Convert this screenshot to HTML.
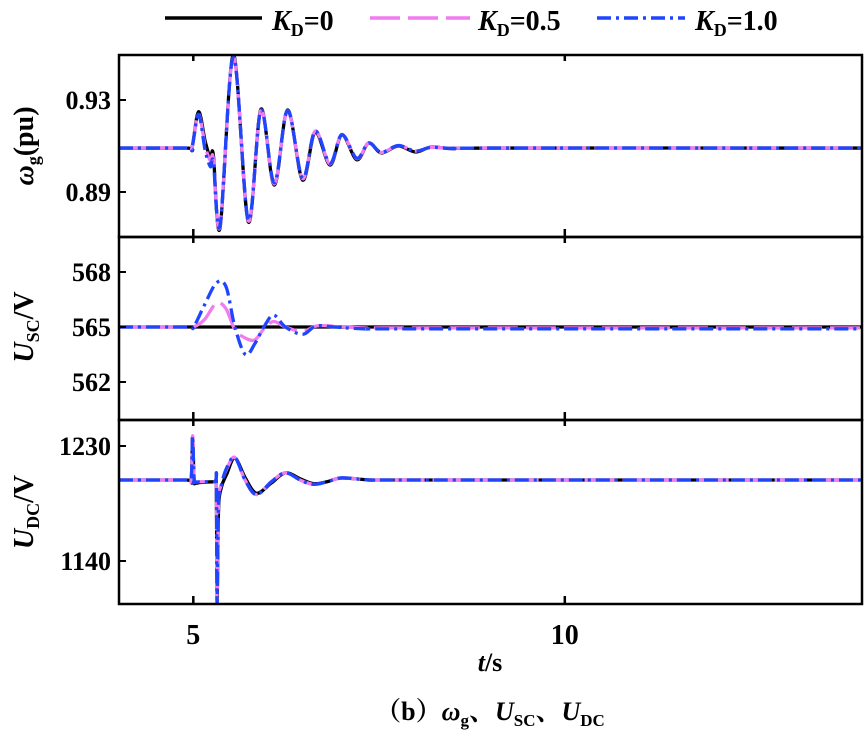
<!DOCTYPE html>
<html><head><meta charset="utf-8"><style>
body{margin:0;background:#fff;}
svg text{font-family:"Liberation Serif","Noto Serif CJK SC",serif;fill:#000;font-weight:bold;}
</style></head><body>
<svg id="chart" width="866" height="732" viewBox="0 0 866 732" xmlns="http://www.w3.org/2000/svg">
<g id="legend">
 <line x1="165" y1="18" x2="262" y2="18" stroke="#000" stroke-width="3.5"/>
 <text x="272" y="30" font-size="28"><tspan font-style="italic">K</tspan><tspan font-size="18" dy="6">D</tspan><tspan dy="-6">=0</tspan></text>
 <line x1="370" y1="18" x2="470" y2="18" stroke="#f07cf0" stroke-width="3.5" stroke-dasharray="30 8"/>
 <text x="478" y="30" font-size="28"><tspan font-style="italic">K</tspan><tspan font-size="18" dy="6">D</tspan><tspan dy="-6">=0.5</tspan></text>
 <line x1="597" y1="18" x2="685" y2="18" stroke="#1f45ff" stroke-width="3.5" stroke-dasharray="14 5 3 5"/>
 <text x="695" y="30" font-size="28"><tspan font-style="italic">K</tspan><tspan font-size="18" dy="6">D</tspan><tspan dy="-6">=1.0</tspan></text>
</g>
<g id="plots"></g>
<text x="490" y="671" font-size="26" text-anchor="middle"><tspan font-style="italic">t</tspan>/s</text>
<text x="490" y="720" font-size="26" text-anchor="middle">（b）<tspan font-style="italic">ω</tspan><tspan font-size="17" dy="6">g</tspan><tspan dy="-6">、</tspan><tspan font-style="italic">U</tspan><tspan font-size="17" dy="6">SC</tspan><tspan dy="-6">、</tspan><tspan font-style="italic">U</tspan><tspan font-size="17" dy="6">DC</tspan></text>
</svg>
<script>
// ---- data ----
const xTicks=[5,10];
const wT=[4,4.9,4.98,5.07,5.16,5.23,5.27,5.36,5.54,5.74,5.91,6.09,6.27,6.47,6.64,6.84,7.0,7.2,7.36,7.53,7.76,7.99,8.2,8.5,9,14];
const wK0=[0.9091,0.9091,0.9091,0.9249,0.912,0.9048,0.9061,0.8743,0.9496,0.877,0.926,0.893,0.9257,0.8952,0.916,0.9017,0.9148,0.904,0.9113,0.907,0.910,0.9074,0.9095,0.9088,0.9091,0.9091];
const wK05=[0.9091,0.9091,0.9091,0.9240,0.910,0.9035,0.9045,0.8750,0.9490,0.8775,0.9255,0.8935,0.9255,0.8958,0.9165,0.9022,0.9150,0.9045,0.9113,0.9072,0.9102,0.9078,0.9094,0.9089,0.9091,0.9091];
const wK10=[0.9091,0.9091,0.9091,0.9238,0.908,0.9010,0.9030,0.8755,0.9488,0.8778,0.9255,0.8940,0.9255,0.8960,0.9165,0.9025,0.9150,0.9047,0.9113,0.9073,0.9102,0.9078,0.9094,0.9089,0.9091,0.9091];
const wTicks=[0.89,0.93];
const uT=[4,4.9,5.0,5.15,5.31,5.44,5.56,5.7,5.83,5.95,6.08,6.24,6.47,6.65,6.9,7.3,8,14];
const uK0=[565,565,565,565,565,565,565,565,565,565,565,565,565,565,565,565,565,565];
const uK05=[565,565,565,565.4,566.3,566.0,564.85,564.4,564.3,564.9,565.3,565.0,564.75,565.05,565.05,564.95,564.95,564.95];
const uK10=[565,565,565,566.2,567.4,567.2,565.0,563.5,564.1,565.0,565.65,565.0,564.6,565.05,565.0,564.9,564.9,564.9];
const uTicks=[562,565,568];
const dT=[4,4.9,4.97,4.99,5.01,5.03,5.1,5.29,5.31,5.32,5.34,5.38,5.45,5.56,5.7,5.85,6.05,6.24,6.45,6.62,6.8,7.0,7.4,8,14];
const dK0=[1203.4,1203.4,1203.4,1237,1204,1201,1201.5,1202,1202,1109.5,1180,1198,1208,1220.6,1205,1193,1201,1209,1204,1200.5,1202,1205,1203.4,1203.4,1203.4];
const dK05=[1203.4,1203.4,1203.4,1238,1205,1202,1202,1202,1202,1108,1185,1200,1212,1221,1203,1192,1202,1209,1203,1200,1202,1205,1203.4,1203.4,1203.4];
const dK10=[1203.4,1203.4,1203.4,1238,1205,1202,1202,1202,1202,1106,1185,1200,1213,1221,1203,1192,1202,1209,1203,1200,1202,1205,1203.4,1203.4,1203.4];
const dTicks=[1140,1230];

const X0=119,X1=862,xMin=4,xMax=14;
const xs=t=>X0+(t-xMin)/(xMax-xMin)*(X1-X0);
const NS="http://www.w3.org/2000/svg";
const plots=document.getElementById('plots');
function mk(tag,attrs,parent){const e=document.createElementNS(NS,tag);for(const k in attrs)e.setAttribute(k,attrs[k]);(parent||plots).appendChild(e);return e;}
function smoothPath(pts){let d=`M${pts[0][0]},${pts[0][1]}`;for(let i=0;i<pts.length-1;i++){const p0=pts[Math.max(0,i-1)],p1=pts[i],p2=pts[i+1],p3=pts[Math.min(pts.length-1,i+2)];const c1=[p1[0]+(p2[0]-p0[0])/6,p1[1]+(p2[1]-p0[1])/6],c2=[p2[0]-(p3[0]-p1[0])/6,p2[1]-(p3[1]-p1[1])/6];d+=` C${c1[0]},${c1[1]} ${c2[0]},${c2[1]} ${p2[0]},${p2[1]}`;}return d;}
const styles=[{c:'#000',da:'',n:'kd0'},{c:'#f07cf0',da:'30 8',n:'kd05'},{c:'#1f45ff',da:'14 5 3 5',n:'kd10'}];
function panel(name,top,bot,vHi,yHi,vLo,yLo,ticks,tickFmt,T,series,titleHTML,titleY){
  const ys=v=>yHi+(v-vHi)/(vLo-vHi)*(yLo-yHi);
  const g=mk('g',{});
  
  
  const cp=mk('clipPath',{id:'cp-'+name},g);mk('rect',{x:X0,y:top,width:X1-X0,height:bot-top},cp);
  const sg=mk('g',{'clip-path':'url(#cp-'+name+')'},g);
  series.forEach((vals,si)=>{const pts=T.map((t,i)=>[xs(t),ys(vals[i])]);
    const p=mk('path',{d:smoothPath(pts),fill:'none',stroke:styles[si].c,'stroke-width':3.3,'stroke-dasharray':styles[si].da,'stroke-linejoin':'round'},sg);
    
    });
  const fr=mk('rect',{x:X0,y:top,width:X1-X0,height:bot-top,fill:'none',stroke:'#000','stroke-width':2.5},g);
  
  
  ticks.forEach(v=>{const y=ys(v);mk('line',{x1:X0,y1:y,x2:X0+7,y2:y,stroke:'#000','stroke-width':2},g);
    const t=mk('text',{x:X0-8,y:y+9,'font-size':26,'text-anchor':'end'},g);t.textContent=tickFmt(v);
    
    });
  xTicks.forEach(v=>{const x=xs(v);mk('line',{x1:x,y1:bot,x2:x,y2:bot-8,stroke:'#000','stroke-width':2.5},g);mk('line',{x1:x,y1:top,x2:x,y2:top+6,stroke:'#000','stroke-width':2.5},g);});
  const tt=mk('text',{transform:`translate(33,${titleY}) rotate(-90)`,'font-size':28,'text-anchor':'middle'},g);tt.innerHTML=titleHTML;
  
  
}
panel('omega',55,237,0.93,100,0.89,192,wTicks,v=>v.toFixed(2),wT,[wK0,wK05,wK10],'<tspan font-style="italic">ω</tspan><tspan font-size="18" dy="6">g</tspan><tspan dy="-6">(pu)</tspan>',146);
panel('usc',237,420,568,272,562,382,uTicks,v=>String(v),uT,[uK0,uK05,uK10],'<tspan font-style="italic">U</tspan><tspan font-size="18" dy="6">SC</tspan><tspan dy="-6">/V</tspan>',327);
panel('udc',420,604,1230,446,1140,561,dTicks,v=>String(v),dT,[dK0,dK05,dK10],'<tspan font-style="italic">U</tspan><tspan font-size="18" dy="6">DC</tspan><tspan dy="-6">/V</tspan>',512);
xTicks.forEach(v=>{const t=mk('text',{x:xs(v),y:644,'font-size':28,'text-anchor':'middle'});t.textContent=v;
  
  });
</script>
</body></html>
